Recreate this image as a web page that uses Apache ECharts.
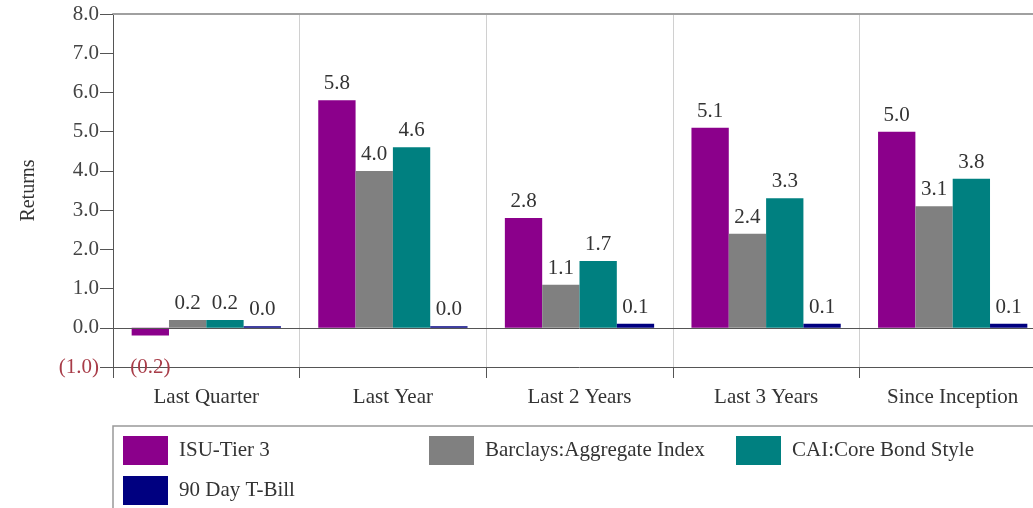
<!DOCTYPE html>
<html>
<head>
<meta charset="utf-8">
<script src="https://cdn.jsdelivr.net/npm/echarts@6/dist/echarts.min.js"></script>
<style>
  html, body { margin: 0; padding: 0; background: #fff; overflow: hidden; }
  #chart { width: 1046px; height: 508px; }
</style>
</head>
<body>
<div id="chart"></div>
<script>
const categories = ["Last Quarter", "Last Year", "Last 2 Years", "Last 3 Years", "Since Inception"];
const seriesNames = ["ISU-Tier 3", "Barclays:Aggregate Index", "CAI:Core Bond Style", "90 Day T-Bill"];
const isuTier3 = [-0.2, 5.8, 2.8, 5.1, 5.0];
const barclaysAgg = [0.2, 4.0, 1.1, 2.4, 3.1];
const coreBond = [0.2, 4.6, 1.7, 3.3, 3.8];
const tBill = [0.04, 0.04, 0.1, 0.1, 0.1];
const yTicks = { min: -1, max: 8, interval: 1 };

const colors = ["#8b008b", "#808080", "#008080", "#000080"];
const font = "Liberation Serif";
const fontSize = 21;
const negColor = "#a83c48";

function fmt(v) {
  return v < 0 ? "(" + Math.abs(v).toFixed(1) + ")" : v.toFixed(1);
}

function makeSeries(name, values, color) {
  return {
    name: name,
    type: "bar",
    barGap: 0,
    barCategoryGap: "20%",
    itemStyle: { color: color },
    data: values.map((v) => {
      if (v >= 0) return v;
      return {
        value: v,
        label: { position: "bottom", offset: [0, 15], color: negColor }
      };
    }),
    label: {
      show: true,
      position: "top",
      distance: 6,
      fontFamily: font,
      fontSize: fontSize,
      color: "#333",
      formatter: (p) => fmt(p.value)
    }
  };
}

// chart is a bit wider than the window, the last column is cut off like in the source
const chart = echarts.init(document.getElementById("chart"));

const series = [
  makeSeries(seriesNames[0], isuTier3, colors[0]),
  makeSeries(seriesNames[1], barclaysAgg, colors[1]),
  makeSeries(seriesNames[2], coreBond, colors[2]),
  makeSeries(seriesNames[3], tBill, colors[3])
];
series[3].markLine = {
  silent: true,
  symbol: "none",
  label: { show: false },
  lineStyle: { color: "#555", width: 1, type: "solid" },
  data: [{ yAxis: 0 }]
};

const legendSpots = [
  { left: 123, top: 436 },
  { left: 429, top: 436 },
  { left: 736, top: 436 },
  { left: 123, top: 476 }
];

chart.setOption({
  animation: false,
  backgroundColor: "#fff",
  grid: { left: 113, top: 14, right: 0, bottom: 141 },
  legend: legendSpots.map((spot, i) => ({
    data: [seriesNames[i]],
    left: spot.left,
    top: spot.top,
    padding: 0,
    icon: "rect",
    itemWidth: 45,
    itemHeight: 29,
    selectedMode: false,
    textStyle: { fontFamily: font, fontSize: fontSize, color: "#333", padding: [0, 0, 0, 6] }
  })),
  graphic: [
    {
      type: "rect",
      shape: { x: 113, y: 426, width: 960, height: 100 },
      style: { fill: "none", stroke: "#999", lineWidth: 1.5 },
      silent: true
    }
  ],
  xAxis: [
    {
      type: "category",
      data: categories,
      position: "bottom",
      axisLine: { onZero: false, lineStyle: { color: "#555", width: 1 } },
      axisTick: { show: true, alignWithLabel: false, length: 11, lineStyle: { color: "#555" } },
      splitLine: { show: true, lineStyle: { color: "#d0d0d0", width: 1 } },
      axisLabel: { margin: 20, fontFamily: font, fontSize: fontSize, color: "#333" }
    },
    {
      type: "category",
      data: categories,
      position: "top",
      axisLine: { onZero: false, lineStyle: { color: "#a0a0a0", width: 2 } },
      axisTick: { show: false },
      axisLabel: { show: false }
    }
  ],
  yAxis: {
    type: "value",
    min: yTicks.min,
    max: yTicks.max,
    interval: yTicks.interval,
    name: "Returns",
    nameLocation: "middle",
    nameGap: 74,
    nameTextStyle: { fontFamily: font, fontSize: 20, color: "#333" },
    axisLine: { show: true, lineStyle: { color: "#555", width: 1 } },
    axisTick: { show: true, length: 13, lineStyle: { color: "#555" } },
    splitLine: { show: false },
    axisLabel: {
      margin: 14,
      fontFamily: font,
      fontSize: fontSize,
      color: (v) => (Number(v) < 0 ? negColor : "#444"),
      formatter: (v) => fmt(v)
    }
  },
  series: series
});
</script>
</body>
</html>
